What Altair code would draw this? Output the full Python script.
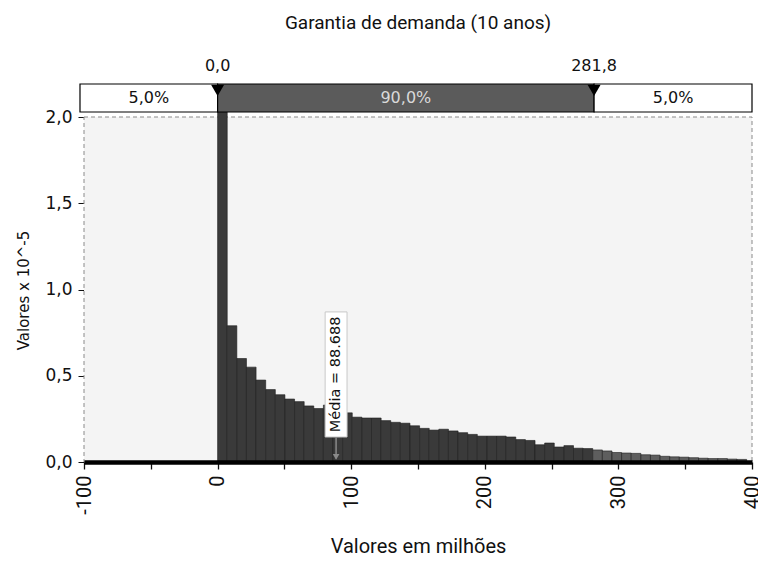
import altair as alt
import pandas as pd

# ---- data ----
bin_width = 7.2  # millions
density = [2.03, 0.79, 0.60, 0.55, 0.475, 0.42, 0.39, 0.365, 0.35, 0.325,
           0.31, 0.33, 0.30, 0.285, 0.26, 0.255, 0.255, 0.24, 0.23, 0.225,
           0.21, 0.195, 0.185, 0.19, 0.18, 0.17, 0.16, 0.15, 0.15, 0.15,
           0.145, 0.13, 0.125, 0.10, 0.11, 0.087, 0.095, 0.08, 0.078, 0.07,
           0.064, 0.055, 0.052, 0.05, 0.042, 0.04, 0.033, 0.03, 0.028, 0.025,
           0.022, 0.02, 0.02, 0.017, 0.015]
upper_limit = 281.8
lower_limit = 0.0

band_start = [-103, lower_limit, upper_limit]
band_end = [lower_limit, upper_limit, 400]
band_labels = ["5,0%", "90,0%", "5,0%"]
band_fill = ["#ffffff", "#5b5b5b", "#ffffff"]
band_text_color = ["#111111", "#d9d9d9", "#111111"]

marker_x = [lower_limit, upper_limit]
marker_labels = ["0,0", "281,8"]

mean_value = 88.688
mean_label = "Média = 88.688"

x_domain = [-100, 400]
y_max = 2.0
x_ticks = [-100, -50, 0, 50, 100, 150, 200, 250, 300, 350, 400]
y_ticks = [0.0, 0.5, 1.0, 1.5, 2.0]

# ---- layout: plot area 668 x 406 px; histogram part is the lower 345 px,
#      the percentile band lives in the upper 56 px ----
W, H, HIST_H, BAND_PX = 668, 406, 345, 28.0
hist_scale = alt.Scale(domain=[0, y_max * H / HIST_H], nice=False, zero=False)
band_scale = alt.Scale(domain=[2 - H / BAND_PX, 2], nice=False, zero=False)
xscale = alt.Scale(domain=x_domain, nice=False, zero=False)

x_axis = alt.Axis(values=x_ticks, labelAngle=270, labelAlign="right",
                  labelBaseline="middle", labelPadding=6,
                  labelFont="Roboto", labelFontSize=20, labelColor="#111",
                  labelExpr="datum.value % 100 == 0 ? '' + datum.value : ''",
                  tickColor="#111", tickSize=7, tickWidth=1.3,
                  domainColor="#000", domainWidth=4.5, grid=False, zindex=2,
                  titleFont="Roboto", titleFontSize=20,
                  titleFontWeight="normal", titleColor="#111",
                  titlePadding=22)
X_TITLE = "Valores em milhões"


def xenc(field):
    return alt.X(field, scale=xscale, axis=x_axis, title=X_TITLE)


# ---- tables ----
starts = [i * bin_width for i in range(len(density))]
hist = pd.DataFrame({
    "start": starts,
    "end": [s + bin_width for s in starts],
    "density": density,
    "zero": [0.0] * len(density),
    "fill": ["#5e5e5e" if s >= upper_limit - 1 else "#3a3a3a" for s in starts],
})
frame = pd.DataFrame({"x1": [x_domain[0]], "x2": [x_domain[1]],
                      "y1": [0.0], "y2": [y_max]})

band = pd.DataFrame({
    "start": band_start, "end": band_end,
    "mid": [(a + b) / 2 for a, b in zip(band_start, band_end)],
    "label": band_labels, "fill": band_fill, "tcolor": band_text_color,
    "y0": [0.0] * 3, "y1": [1.0] * 3, "ym": [0.5] * 3,
})
markers = pd.DataFrame({"x": marker_x, "label": marker_labels,
                        "ytri": [0.77, 0.77], "ytxt": [1.65, 1.65]})

mean_df = pd.DataFrame({
    "x": [mean_value], "bx1": [mean_value - 8.2], "bx2": [mean_value + 8.2],
    "by1": [0.145], "by2": [0.87], "bym": [0.508], "tip": [0.03], "base": [0.02],
    "label": [mean_label],
})

# ---- layers ----
background = alt.Chart(frame).mark_rect(fill="#f4f4f4", stroke="#8a8a8a",
                                        strokeDash=[4, 3], strokeWidth=1).encode(
    x=xenc("x1:Q"), x2="x2:Q",
    y=alt.Y("y1:Q", scale=hist_scale, axis=None), y2="y2:Q",
)

bars = alt.Chart(hist).mark_rect(stroke="#1c1c1c", strokeWidth=0.6).encode(
    x=xenc("start:Q"),
    x2="end:Q",
    y=alt.Y("density:Q", scale=hist_scale, title="Valores x 10^-5",
            axis=alt.Axis(orient="left", values=y_ticks, domain=False, grid=False,
                          labelExpr="replace(format(datum.value, '.1f'), '.', ',')",
                          labelFont="DejaVu Sans", labelFontSize=17, labelColor="#111",
                          tickColor="#111", tickSize=6, labelPadding=6,
                          titleFont="DejaVu Sans", titleFontSize=15,
                          titleFontWeight="normal", titleColor="#111",
                          titleY=290 - 56, titlePadding=13)),
    y2="zero:Q",
    color=alt.Color("fill:N", scale=None),
)

box = alt.Chart(mean_df).mark_rect(fill="#ffffff", stroke="#c8c8c8", strokeWidth=1).encode(
    x=xenc("bx1:Q"), x2="bx2:Q",
    y=alt.Y("by1:Q", scale=hist_scale, axis=None), y2="by2:Q",
)
arrow = alt.Chart(mean_df).mark_rule(color="#8a8a8a", strokeWidth=1.5).encode(
    x=xenc("x:Q"),
    y=alt.Y("base:Q", scale=hist_scale, axis=None), y2="by1:Q",
)
head = alt.Chart(mean_df).mark_point(shape="triangle-down", filled=True, size=45,
                                     color="#8a8a8a", opacity=1).encode(
    x=xenc("x:Q"),
    y=alt.Y("tip:Q", scale=hist_scale, axis=None),
)
mean_text = alt.Chart(mean_df).mark_text(angle=270, font="DejaVu Sans", fontSize=14.5,
                                         color="#111", align="center",
                                         baseline="middle").encode(
    x=xenc("x:Q"),
    y=alt.Y("bym:Q", scale=hist_scale, axis=None),
    text="label:N",
)

band_rect = alt.Chart(band).mark_rect(stroke="#000", strokeWidth=1.2).encode(
    x=xenc("start:Q"), x2="end:Q",
    y=alt.Y("y0:Q", scale=band_scale, axis=None), y2="y1:Q",
    color=alt.Color("fill:N", scale=None),
)
band_text = alt.Chart(band).mark_text(font="DejaVu Sans", fontSize=16,
                                      baseline="middle").encode(
    x=xenc("mid:Q"),
    y=alt.Y("ym:Q", scale=band_scale, axis=None),
    text="label:N",
    color=alt.Color("tcolor:N", scale=None),
)
tri = alt.Chart(markers).mark_point(shape="triangle-down", filled=True, size=170,
                                    color="#000", opacity=1).encode(
    x=xenc("x:Q"),
    y=alt.Y("ytri:Q", scale=band_scale, axis=None),
)
tri_text = alt.Chart(markers).mark_text(font="DejaVu Sans", fontSize=16,
                                        color="#111", baseline="middle").encode(
    x=xenc("x:Q"),
    y=alt.Y("ytxt:Q", scale=band_scale, axis=None),
    text="label:N",
)

chart = alt.layer(
    background, bars, box, arrow, head, mean_text,
    band_rect, band_text, tri, tri_text,
).resolve_scale(y="independent").properties(
    width=W, height=H,
    view=alt.ViewBackground(stroke="transparent"),
    title=alt.TitleParams("Garantia de demanda (10 anos)", font="Roboto", fontSize=19,
                          fontWeight="normal", color="#111", anchor="middle",
                          frame="group", offset=23),
    autosize=alt.AutoSizeParams(type="none"),
    padding={"left": 84, "top": 56, "right": 6, "bottom": 109},
    background="#ffffff",
)

chart.save("out.html", embed_options={"renderer": "svg", "actions": False})
